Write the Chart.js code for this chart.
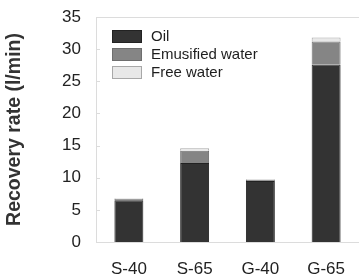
<!DOCTYPE html>
<html>
<head>
<meta charset="utf-8">
<script src="https://cdn.jsdelivr.net/npm/chart.js@4"></script>
<style>
  html, body { margin: 0; padding: 0; background: #fff; }
  #wrap { width: 359px; height: 280px; }
</style>
</head>
<body>
<div id="wrap"><canvas id="recoveryChart"></canvas></div>
<script>
const samples = ['S-40', 'S-65', 'G-40', 'G-65'];
const oil = [6.5, 12.3, 9.5, 27.6];
const emulsifiedWater = [0.2, 1.9, 0.2, 3.6];
const freeWater = [0.1, 0.4, 0.1, 0.6];
const yTicks = [0, 5, 10, 15, 20, 25, 30, 35];

// legend + frame drawn inside the plot area
const boxLegend = {
    id: 'boxLegend',
    afterDatasetsDraw(chart) {
        const ctx = chart.ctx;
        const area = chart.chartArea;
        const y = chart.scales.y;
        ctx.save();
        ctx.strokeStyle = '#dcdcdc';
        ctx.lineWidth = 1;
        ctx.beginPath();
        ctx.moveTo(area.left, area.top + 0.5);
        ctx.lineTo(area.right, area.top + 0.5);
        yTicks.forEach(v => {
            const py = Math.round(y.getPixelForValue(v)) + 0.5;
            ctx.moveTo(area.left, py);
            ctx.lineTo(area.left + 4, py);
        });
        ctx.stroke();

        ctx.font = '15px Arial, "Liberation Sans", sans-serif';
        ctx.textBaseline = 'middle';
        chart.data.datasets.forEach((ds, i) => {
            const bx = area.left + 16.5;
            const by = area.top + 13.5 + i * 18;
            ctx.fillStyle = ds.backgroundColor;
            ctx.fillRect(bx, by, 29, 12);
            ctx.strokeStyle = ds.borderColor;
            ctx.strokeRect(bx, by, 29, 12);
            ctx.fillStyle = '#1e1e1e';
            ctx.fillText(ds.label, area.left + 55, by + 6.5);
        });
        ctx.restore();
    }
};

const ctx = document.getElementById('recoveryChart').getContext('2d');
const recoveryChart = new Chart(ctx, {
    type: 'bar',
    data: {
        labels: samples,
        datasets: [
            { label: 'Oil', data: oil, backgroundColor: '#333333', borderColor: '#222222', borderWidth: 1 },
            { label: 'Emusified water', data: emulsifiedWater, backgroundColor: '#858585', borderColor: '#6e6e6e', borderWidth: 1 },
            { label: 'Free water', data: freeWater, backgroundColor: '#e8e8e8', borderColor: '#a8a8a8', borderWidth: 1 }
        ]
    },
    options: {
        responsive: true,
        maintainAspectRatio: false,
        animation: false,
        layout: { padding: { top: 17, right: 0, left: 0, bottom: 0 } },
        datasets: { bar: { barPercentage: 0.44, categoryPercentage: 1 } },
        plugins: { legend: { display: false }, tooltip: { enabled: false } },
        scales: {
            x: {
                stacked: true,
                grid: { display: false, drawTicks: false },
                border: { display: true, color: '#dcdcdc' },
                ticks: { color: '#222', padding: 17, font: { size: 17, family: 'Arial, "Liberation Sans", sans-serif' } },
                afterFit: s => { s.height = 38; s.paddingLeft = 0; s.paddingRight = 0; }
            },
            y: {
                stacked: true,
                min: 0,
                max: 35,
                afterBuildTicks: s => { s.ticks = yTicks.map(v => ({ value: v })); },
                grid: { display: false, drawTicks: false },
                border: { display: true, color: '#dcdcdc' },
                ticks: { color: '#222', padding: 15, font: { size: 17, family: 'Arial, "Liberation Sans", sans-serif' } },
                title: {
                    display: true,
                    text: 'Recovery rate (l/min)',
                    color: '#333',
                    padding: { top: 3, bottom: 0 },
                    font: { size: 19.5, weight: 'bold', family: 'Arial, "Liberation Sans", sans-serif' }
                },
                afterFit: s => { s.width = 96; s.paddingTop = 0; s.paddingBottom = 0; }
            }
        }
    },
    plugins: [boxLegend]
});
</script>
</body>
</html>
